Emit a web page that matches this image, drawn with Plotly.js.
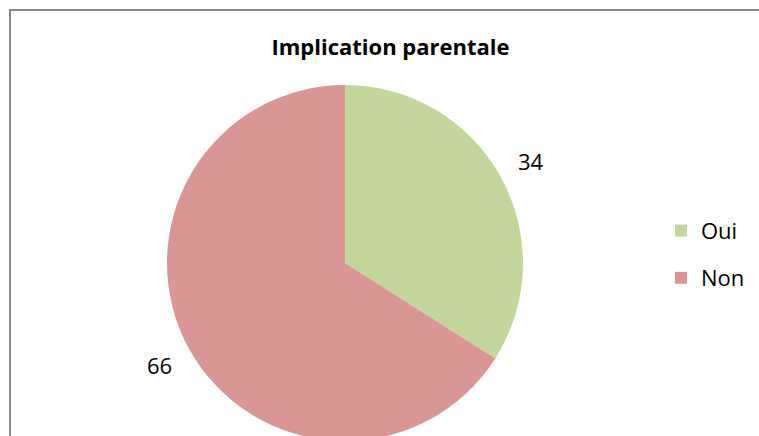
<!DOCTYPE html>
<html>
<head>
<meta charset="utf-8">
<script src="https://cdn.plot.ly/plotly-3.0.1.min.js"></script>
<style>
html,body{margin:0;padding:0;overflow:hidden;background:#fff;}
#chart{width:759px;height:480px;}
</style>
</head>
<body>
<div id="chart"></div>
<script>
var categories = ["Oui", "Non"];
var values = [34, 66];
var colors = ["#C3D69B", "#D99694"];
var chartTitle = "Implication parentale";

var W = 759, H = 480;
var cxPx = 345, cyPx = 263, rPx = 178;
var dom = {
  x: [(cxPx - rPx) / W, (cxPx + rPx) / W],
  y: [(H - cyPx - rPx) / H, (H - cyPx + rPx) / H]
};
var FONT = "'Open Sans', 'Noto Sans', sans-serif";

var total = values.reduce(function(a, b){ return a + b; }, 0);
var annotations = [];
var cum = 0;
var labelFactor = 1.19;
for (var i = 0; i < values.length; i++) {
  var mid = (cum + values[i] / 2) / total * 2 * Math.PI;
  cum += values[i];
  var px = cxPx + labelFactor * rPx * Math.sin(mid);
  var py = cyPx - labelFactor * rPx * Math.cos(mid);
  annotations.push({
    x: px / W, y: 1 - py / H, xref: "paper", yref: "paper",
    text: String(values[i]), showarrow: false,
    xanchor: "center", yanchor: "middle",
    font: {family: FONT, size: 22, color: "#000"}
  });
}

var legendLabels = categories.map(function(c){
  return '<span style="font-size:22px;baseline-shift:5px">' + c + '</span>';
});

var trace = {
  type: "pie",
  labels: legendLabels,
  values: values,
  marker: {colors: colors, line: {width: 0}},
  sort: false,
  direction: "clockwise",
  rotation: 0,
  textinfo: "none",
  hoverinfo: "none",
  domain: dom
};

var layout = {
  width: W, height: H,
  margin: {l: 0, r: 0, t: 0, b: 0},
  paper_bgcolor: "#fff",
  showlegend: true,
  title: {
    text: "<b>" + chartTitle + "</b>",
    x: 390.5 / W, xanchor: "center", xref: "paper",
    y: 1 - 47 / H, yanchor: "middle", yref: "container",
    font: {family: FONT, size: 22, color: "#000"}
  },
  legend: {
    x: 661 / W, xanchor: "left",
    y: 1 - 202 / H, yanchor: "top",
    font: {family: FONT, size: 34, color: "#000"},
    bgcolor: "rgba(0,0,0,0)"
  },
  annotations: annotations,
  shapes: [{
    type: "rect", xref: "paper", yref: "paper",
    x0: 10 / W, x1: 1.2, y0: -0.2, y1: 1 - 10 / H,
    line: {color: "#878787", width: 2}, fillcolor: "rgba(0,0,0,0)", layer: "above"
  }]
};

Plotly.newPlot("chart", [trace], layout, {displayModeBar: false, staticPlot: true});
</script>
</body>
</html>
